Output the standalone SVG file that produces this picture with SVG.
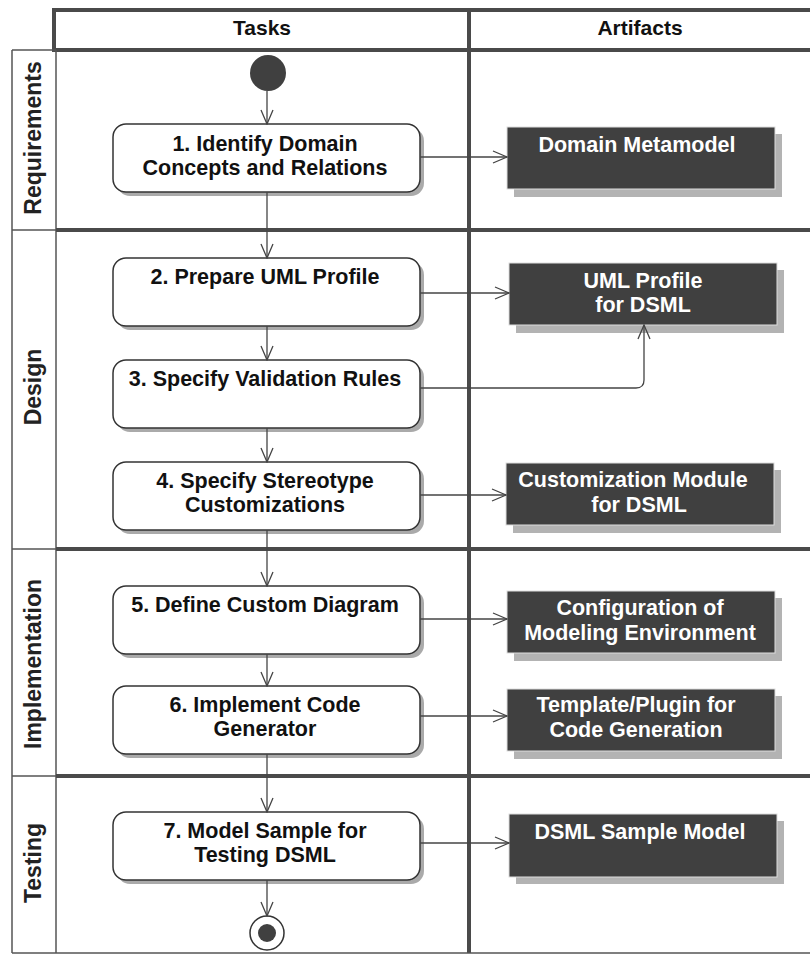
<svg xmlns="http://www.w3.org/2000/svg" width="810" height="956" viewBox="0 0 810 956">
<style>
.thick{stroke:#4a4a4a;stroke-width:4;fill:none}
.thin{stroke:#555;stroke-width:1.5;fill:none}
.hdr{font-family:"Liberation Sans",Arial,sans-serif;font-weight:bold;font-size:21px;fill:#111;text-anchor:middle}
.lane{font-family:"Liberation Sans",Arial,sans-serif;font-weight:bold;font-size:23px;fill:#222;text-anchor:middle}
.task{fill:#fff;stroke:#333;stroke-width:1.5}
.tshadow{fill:#aaa}
.ttext{font-family:"Liberation Sans",Arial,sans-serif;font-weight:bold;font-size:21.5px;fill:#111;text-anchor:middle}
.art{fill:#404040;stroke:#ddd;stroke-width:1}
.ashadow{fill:#b3b3b3}
.atext{font-family:"Liberation Sans",Arial,sans-serif;font-weight:bold;font-size:21.5px;fill:#fff;text-anchor:middle}
.flow{stroke:#444;stroke-width:1.3;fill:none;marker-end:url(#arr)}
</style>
<defs>
<marker id="arr" viewBox="0 0 16 16" refX="15" refY="8" markerWidth="16" markerHeight="16" markerUnits="userSpaceOnUse" orient="auto">
<path d="M1,2 L15,8 L1,14" fill="none" stroke="#444" stroke-width="1.3"/>
</marker>
</defs>

<g id="frame">
<rect x="0" y="0" width="810" height="956" fill="#fff"/>
<path class="thick" d="M54,52 V10 H812"/>
<line class="thick" x1="54" y1="50" x2="812" y2="50"/>
<line class="thick" x1="469" y1="10" x2="469" y2="953"/>
<line class="thin" x1="12" y1="50" x2="12" y2="953"/>
<line class="thin" x1="56" y1="50" x2="56" y2="953"/>
<line class="thin" x1="12" y1="50" x2="56" y2="50"/>
<line class="thin" x1="12" y1="230" x2="56" y2="230"/>
<line class="thick" x1="56" y1="230" x2="812" y2="230"/>
<line class="thin" x1="12" y1="549" x2="56" y2="549"/>
<line class="thick" x1="56" y1="549" x2="812" y2="549"/>
<line class="thin" x1="12" y1="776" x2="56" y2="776"/>
<line class="thick" x1="56" y1="776" x2="812" y2="776"/>
<line class="thin" x1="12" y1="953" x2="812" y2="953"/>
<text class="hdr" x="262" y="35">Tasks</text>
<text class="hdr" x="640" y="35">Artifacts</text>
</g>

<g id="lanes">
<text class="lane" transform="translate(41,138) rotate(-90)">Requirements</text>
<text class="lane" transform="translate(41,387) rotate(-90)">Design</text>
<text class="lane" transform="translate(41,664) rotate(-90)">Implementation</text>
<text class="lane" transform="translate(41,863) rotate(-90)">Testing</text>
</g>

<g id="start"><circle cx="268" cy="73" r="18" fill="#404040"/></g>

<g id="t1">
<rect class="tshadow" x="117" y="128" width="307" height="68" rx="13"/>
<rect class="task" x="113" y="124" width="307" height="68" rx="13"/>
<text class="ttext" x="265" y="151">1. Identify Domain</text>
<text class="ttext" x="265" y="175">Concepts and Relations</text>
</g>
<g id="t2">
<rect class="tshadow" x="117" y="262" width="307" height="68" rx="13"/>
<rect class="task" x="113" y="258" width="307" height="68" rx="13"/>
<text class="ttext" x="265" y="284">2. Prepare UML Profile</text>
</g>
<g id="t3">
<rect class="tshadow" x="117" y="364" width="307" height="68" rx="13"/>
<rect class="task" x="113" y="360" width="307" height="68" rx="13"/>
<text class="ttext" x="265" y="386">3. Specify Validation Rules</text>
</g>
<g id="t4">
<rect class="tshadow" x="117" y="466" width="307" height="68" rx="13"/>
<rect class="task" x="113" y="462" width="307" height="68" rx="13"/>
<text class="ttext" x="265" y="488">4. Specify Stereotype</text>
<text class="ttext" x="265" y="512">Customizations</text>
</g>
<g id="t5">
<rect class="tshadow" x="117" y="590" width="307" height="68" rx="13"/>
<rect class="task" x="113" y="586" width="307" height="68" rx="13"/>
<text class="ttext" x="265" y="612">5. Define Custom Diagram</text>
</g>
<g id="t6">
<rect class="tshadow" x="117" y="690" width="307" height="68" rx="13"/>
<rect class="task" x="113" y="686" width="307" height="68" rx="13"/>
<text class="ttext" x="265" y="712">6. Implement Code</text>
<text class="ttext" x="265" y="736">Generator</text>
</g>
<g id="t7">
<rect class="tshadow" x="117" y="816" width="307" height="68" rx="13"/>
<rect class="task" x="113" y="812" width="307" height="68" rx="13"/>
<text class="ttext" x="265" y="838">7. Model Sample for</text>
<text class="ttext" x="265" y="862">Testing DSML</text>
</g>

<g id="end">
<circle cx="267" cy="933" r="17" fill="#fff" stroke="#333" stroke-width="1.5"/>
<circle cx="267" cy="933" r="9" fill="#404040"/>
</g>

<g id="a1">
<rect class="ashadow" x="514" y="134" width="268" height="63"/>
<rect class="art" x="507" y="127" width="268" height="62"/>
<text class="atext" x="637" y="152">Domain Metamodel</text>
</g>
<g id="a2">
<rect class="ashadow" x="516" y="270" width="268" height="63"/>
<rect class="art" x="509" y="263" width="268" height="62"/>
<text class="atext" x="643" y="288">UML Profile</text>
<text class="atext" x="643" y="312">for DSML</text>
</g>
<g id="a3">
<rect class="ashadow" x="513" y="470" width="268" height="63"/>
<rect class="art" x="506" y="463" width="268" height="62"/>
<text class="atext" x="633" y="487">Customization Module</text>
<text class="atext" x="639" y="512">for DSML</text>
</g>
<g id="a4">
<rect class="ashadow" x="514" y="598" width="268" height="63"/>
<rect class="art" x="507" y="591" width="268" height="62"/>
<text class="atext" x="640" y="615">Configuration of</text>
<text class="atext" x="640" y="640">Modeling Environment</text>
</g>
<g id="a5">
<rect class="ashadow" x="514" y="696" width="268" height="63"/>
<rect class="art" x="507" y="689" width="268" height="62"/>
<text class="atext" x="636" y="712">Template/Plugin for</text>
<text class="atext" x="636" y="737">Code Generation</text>
</g>
<g id="a6">
<rect class="ashadow" x="516" y="821" width="268" height="63"/>
<rect class="art" x="509" y="814" width="268" height="63"/>
<text class="atext" x="640" y="839">DSML Sample Model</text>
</g>

<g id="connectors">
<line class="flow" x1="267" y1="91" x2="267" y2="124"/>
<line class="flow" x1="267" y1="192" x2="267" y2="258"/>
<line class="flow" x1="267" y1="326" x2="267" y2="360"/>
<line class="flow" x1="267" y1="428" x2="267" y2="462"/>
<line class="flow" x1="267" y1="530" x2="267" y2="586"/>
<line class="flow" x1="267" y1="654" x2="267" y2="686"/>
<line class="flow" x1="267" y1="754" x2="267" y2="812"/>
<line class="flow" x1="267" y1="880" x2="267" y2="916"/>
<line class="flow" x1="420" y1="157" x2="507" y2="157"/>
<line class="flow" x1="420" y1="293" x2="509" y2="293"/>
<path class="flow" d="M420,388 H636 Q644,388 644,380 V325"/>
<line class="flow" x1="420" y1="495" x2="506" y2="495"/>
<line class="flow" x1="420" y1="619" x2="507" y2="619"/>
<line class="flow" x1="420" y1="716" x2="507" y2="716"/>
<line class="flow" x1="420" y1="843" x2="509" y2="843"/>
</g>
</svg>
